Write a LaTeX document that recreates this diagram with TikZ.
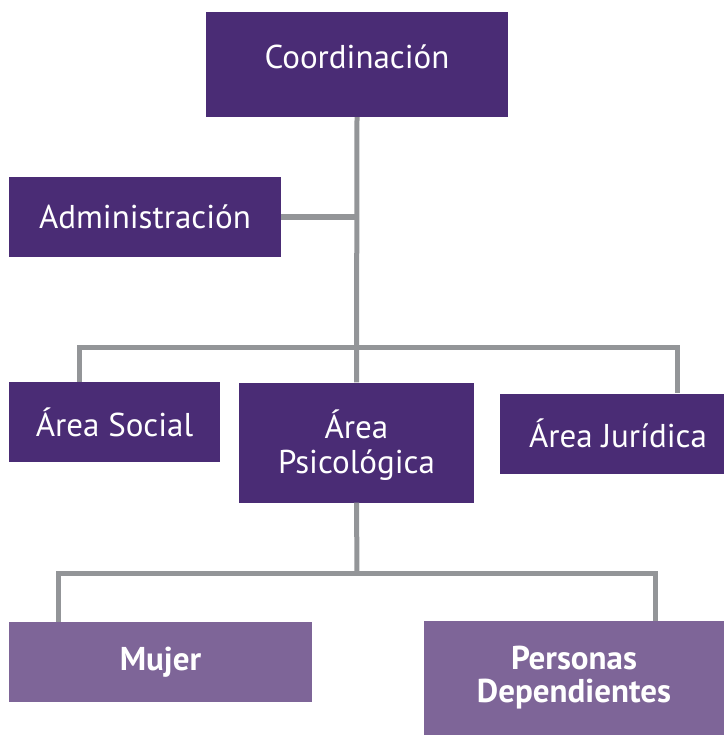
\documentclass[tikz,border=0pt]{standalone}
\usepackage{fontspec}
\setmainfont{PT Sans}
\definecolor{dpurple}{HTML}{4A2C75}
\definecolor{lpurple}{HTML}{7E6598}
\definecolor{lgray}{HTML}{939598}
\begin{document}
\begin{tikzpicture}[x=1pt,y=-1pt,
  box/.style={fill=dpurple,text=white,inner sep=0pt,align=center,
    font=\fontsize{33}{35}\selectfont},
  lbox/.style={fill=lpurple,text=white,inner sep=0pt,align=center,
    font=\bfseries\fontsize{33}{33}\selectfont},
  conn/.style={draw=lgray,line width=5pt,line join=miter}]
\useasboundingbox (0,0) rectangle (724,735);
\node[box,minimum width=302pt,minimum height=105pt] (coord) at (357,64.5) {};
\node[text=white,font=\fontsize{33}{35}\selectfont,inner sep=0pt,anchor=base] at (357,69) {Coordinación};
\node[box,minimum width=272pt,minimum height=80pt] (admin) at (145,217) {Administración};
\node[box,minimum width=211pt,minimum height=80pt] (soc) at (114.5,422) {Área Social};
\node[box,minimum width=235pt,minimum height=120pt] (psic) at (356.5,442.5) {\rule{0pt}{34pt}Área\\Psicológica};
\node[box,minimum width=224pt,minimum height=80pt] (jur) at (612,433.5) {\hspace*{12pt}Área Jurídica};
\node[lbox,minimum width=303pt,minimum height=80pt] (muj) at (160.5,662) {Mujer};
\node[lbox,minimum width=300pt,minimum height=114pt] (pers) at (574,678) {Personas\\Dependientes};
\coordinate (bar) at (357,347);
\coordinate (bartwo) at (357,573);
\draw[conn] (coord.south) -- (psic.north);
\draw[conn] (admin.east) -- (admin.east -| coord.south);
\draw[conn] ([xshift=71pt]soc.north west) |- (bar) -| ([xshift=178pt]jur.north west);
\draw[conn] (psic.south) -- (bartwo);
\draw[conn] ([xshift=50pt]muj.north west) |- (bartwo) -| ([xshift=232pt]pers.north west);
\end{tikzpicture}
\end{document}
